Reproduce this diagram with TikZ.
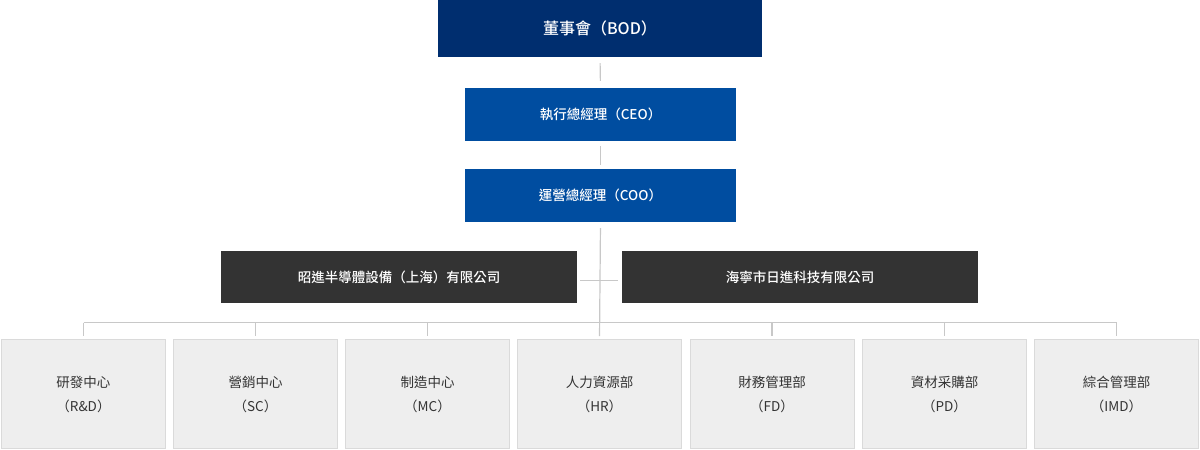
\documentclass[tikz,border=0pt]{standalone}
\usepackage{fontspec}
\newfontfamily\cjk{Noto Sans CJK TC}
\newfontfamily\cjkm{Noto Sans CJK TC Medium}
\usetikzlibrary{calc}
\definecolor{bodcol}{HTML}{002E6F}
\definecolor{execcol}{HTML}{004DA0}
\definecolor{subcol}{HTML}{333333}
\definecolor{deptfill}{HTML}{EEEEEE}
\definecolor{deptline}{HTML}{DADADA}
\definecolor{linecol}{HTML}{C8C8C8}
\definecolor{txtcol}{HTML}{333333}
\begin{document}
\begin{tikzpicture}[x=1pt,y=-1pt,
  topbox/.style={inner sep=0pt, text=white, font=\cjkm\fontsize{13.5}{16}\selectfont},
  bodbox/.style={topbox, fill=bodcol, minimum width=324pt, minimum height=57pt, font=\cjkm\fontsize{16}{18}\selectfont},
  execbox/.style={topbox, fill=execcol, minimum width=271pt, minimum height=53pt},
  subbox/.style={topbox, fill=subcol, minimum width=356pt, minimum height=52pt},
  deptbox/.style={inner sep=0pt, draw=deptline, line width=1pt, fill=deptfill, minimum width=164pt, minimum height=109pt, text=txtcol, align=center, font=\cjk\fontsize{13.5}{24}\selectfont},
  conn/.style={draw=linecol, line width=1.2pt}
]
\useasboundingbox (0,0) rectangle (1200,450);
\node[bodbox] (bod) at (600,28.5) {董事會（BOD）};
\node[execbox] (ceo) at (600.5,114.5) {執行總經理（CEO）};
\node[execbox] (coo) at (600.5,195.5) {運營總經理（COO）};
\node[subbox] (sh) at (399,277) {昭進半導體設備（上海）有限公司};
\node[subbox] (hn) at (800,277) {海寧市日進科技有限公司};

\node[deptbox] (rd) at (83.5,394) {研發中心\\（R\&D）};
\node[deptbox] (sc) at (255.5,394) {營銷中心\\（SC）};
\node[deptbox] (mc) at (427.5,394) {制造中心\\（MC）};
\node[deptbox] (hr) at (599.5,394) {人力資源部\\（HR）};
\node[deptbox] (fd) at (772,394) {財務管理部\\（FD）};
\node[deptbox] (pd) at (944.5,394) {資材采購部\\（PD）};
\node[deptbox] (imd) at (1116.5,394) {綜合管理部\\（IMD）};

\draw[conn, shorten <=6pt, shorten >=7pt] (bod.south) -- (ceo.north);
\draw[conn, shorten <=5pt, shorten >=4pt] (ceo.south) -- (coo.north);
\draw[conn, shorten <=6pt, shorten >=3pt] (coo.south) -- (hr.north);
\draw[conn, shorten <=3pt, shorten >=4pt] ([yshift=-3.5pt]sh.east) -- ([yshift=-3.5pt]hn.west);

\coordinate (busL) at (rd.north |- 0,322.5);
\coordinate (busR) at (imd.north |- 0,322.5);
\draw[conn] (busL) -- (busR);
\foreach \d in {rd,sc,mc,fd,pd,imd}{
  \draw[conn, shorten >=3pt] (\d.north |- busL) -- (\d.north);
}
\end{tikzpicture}
\end{document}
